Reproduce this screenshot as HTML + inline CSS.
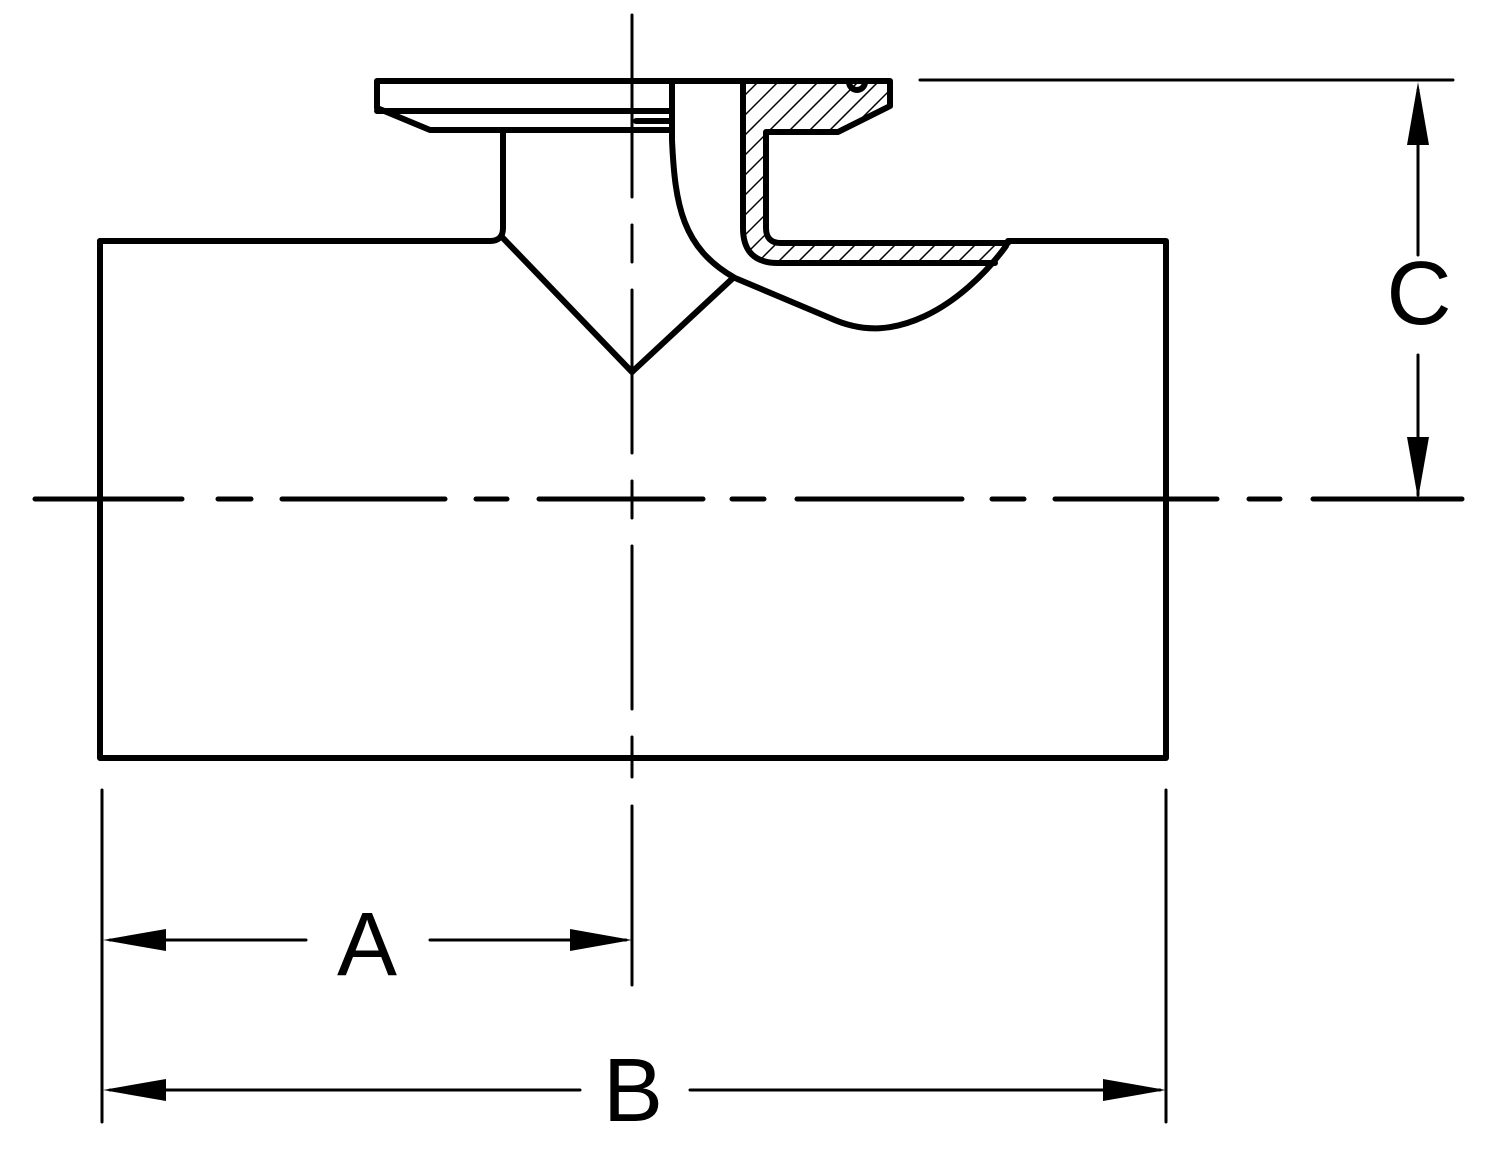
<!DOCTYPE html>
<html><head><meta charset="utf-8"><style>
html,body{margin:0;padding:0;background:#fff}
svg{display:block}
text{font-family:"Liberation Sans",sans-serif;fill:#000}
</style></head><body>
<svg width="1500" height="1159" viewBox="0 0 1500 1159" xmlns="http://www.w3.org/2000/svg">
<defs>
<clipPath id="hc"><path d="M743,81 H890 V106 L838,132 H766 V228 Q766,243 781,243 H1008 L995,263 H778 Q743,263 743,228 Z"/></clipPath>
</defs>
<g clip-path="url(#hc)" stroke="#000" stroke-width="1.5">
<g id="h">
<line x1="700" y1="300" x2="940" y2="60"/><line x1="720" y1="300" x2="960" y2="60"/><line x1="740" y1="300" x2="980" y2="60"/><line x1="760" y1="300" x2="1000" y2="60"/><line x1="780" y1="300" x2="1020" y2="60"/><line x1="800" y1="300" x2="1040" y2="60"/><line x1="820" y1="300" x2="1060" y2="60"/><line x1="840" y1="300" x2="1080" y2="60"/><line x1="860" y1="300" x2="1100" y2="60"/><line x1="880" y1="300" x2="1120" y2="60"/><line x1="900" y1="300" x2="1140" y2="60"/><line x1="920" y1="300" x2="1160" y2="60"/><line x1="940" y1="300" x2="1180" y2="60"/><line x1="960" y1="300" x2="1200" y2="60"/><line x1="980" y1="300" x2="1220" y2="60"/><line x1="1000" y1="300" x2="1240" y2="60"/>
<line x1="680" y1="300" x2="920" y2="60"/><line x1="660" y1="300" x2="900" y2="60"/><line x1="640" y1="300" x2="880" y2="60"/><line x1="620" y1="300" x2="860" y2="60"/><line x1="600" y1="300" x2="840" y2="60"/><line x1="580" y1="300" x2="820" y2="60"/><line x1="560" y1="300" x2="800" y2="60"/><line x1="540" y1="300" x2="780" y2="60"/><line x1="520" y1="300" x2="760" y2="60"/><line x1="500" y1="300" x2="740" y2="60"/>
</g>
</g>
<g fill="none" stroke="#000" stroke-width="6" stroke-linejoin="round" stroke-linecap="round">
<!-- pipe -->
<path d="M100,241 H490 Q503,241 503,228 V130"/>
<path d="M1008,241 H1166 V758 H100 V241"/>
<!-- V -->
<path d="M501,236 L632,372 L733,278"/>
<!-- flange -->
<path d="M672,81 H890 V106 L838,132 H766 V228 Q766,243 781,243 H1008"/>
<path d="M377,81 H672 M377,81 V108 L430,130 H672 M377,111 H672"/>
<path d="M636,121 H672"/>
<path d="M849,82 A8,8 0 0 0 865,82"/>
<!-- section outer wall -->
<path d="M743,81 V228 Q743,263 778,263 H995"/>
<!-- inner curved wall -->
<path d="M672,81 V140 C675,205 682,248 735,278 L830,318 C865,334 895,330 925,316 C955,302 985,275 1006,246"/>
</g>
<!-- centerlines -->
<g stroke="#000" stroke-width="5" stroke-linecap="round" fill="none">
<path d="M35,499 H182 M218,499 H251 M282,499 H445 M476,499 H507 M539,499 H703 M732,499 H764 M797,499 H962 M992,499 H1024 M1055,499 H1217 M1249,499 H1280 M1313,499 H1462"/>
</g>
<g stroke="#000" stroke-width="3" stroke-linecap="round" fill="none">
<path d="M632,15 V197 M632,225 V262 M632,290 V453 M632,481 V518 M632,546 V709 M632,737 V777 M632,806 V985"/>
<!-- extension lines -->
<path d="M102,790 V1122 M1166,790 V1122 M920,80 H1453"/>
<!-- dimension lines -->
<path d="M110,940 H306 M430,940 H626"/>
<path d="M110,1090 H580 M690,1090 H1160"/>
<path d="M1418,90 V255 M1418,355 V495"/>
</g>
<g fill="#000">
<polygon points="103,940 166,929 166,951"/>
<polygon points="632,940 570,929 570,951"/>
<polygon points="103,1090 166,1079 166,1101"/>
<polygon points="1166,1090 1103,1079 1103,1101"/>
<polygon points="1418,82 1407,145 1429,145"/>
<polygon points="1418,499 1407,437 1429,437"/>
</g>
<text x="367" y="975" font-size="90" text-anchor="middle">A</text>
<text x="633" y="1121" font-size="90" text-anchor="middle">B</text>
<text x="1419" y="324" font-size="90" text-anchor="middle">C</text>
</svg>
</body></html>
